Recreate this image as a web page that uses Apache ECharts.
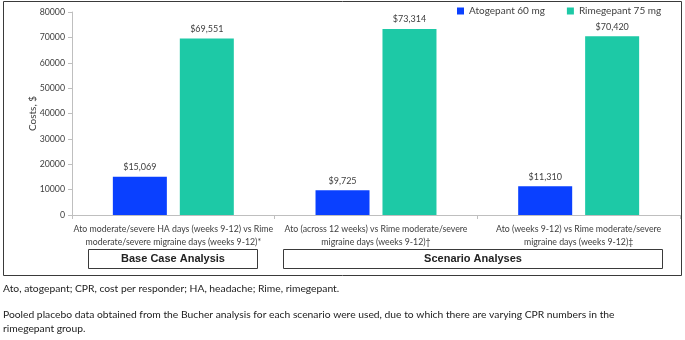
<!DOCTYPE html>
<html>
<head>
<meta charset="utf-8">
<script src="https://cdn.jsdelivr.net/npm/echarts@6/dist/echarts.min.js"></script>
<style>
  html, body { margin: 0; padding: 0; background: #fff; }
  #chart { width: 685px; height: 340px; }
</style>
</head>
<body>
<div id="chart"></div>
<script>
const categories = [
    'Ato moderate/severe HA days (weeks 9-12) vs Rime\nmoderate/severe migraine days (weeks 9-12)*',
    'Ato (across 12 weeks) vs Rime moderate/severe\nmigraine days (weeks 9-12)\u2020',
    'Ato (weeks 9-12) vs Rime moderate/severe\nmigraine days (weeks 9-12)\u2021'
];
const atogepant = [15069, 9725, 11310];
const rimegepant = [69551, 73314, 70420];
const yTicks = [0, 80000, 10000]; // min, max, step
const groupLabels = ['Base Case Analysis', 'Scenario Analyses'];
const footnotes = [
    'Ato, atogepant; CPR, cost per responder; HA, headache; Rime, rimegepant.',
    'Pooled placebo data obtained from the Bucher analysis for each scenario were used, due to which there are varying CPR numbers in the\nrimegepant group.'
];

const chart = echarts.init(document.getElementById('chart'));

const font = 'Lato, "Open Sans", sans-serif';
const boldFont = '"Liberation Sans", Arial, sans-serif';
const textColor = '#404040';

const money = (p) => '$' + p.value.toLocaleString('en-US');

const option = {
    animation: false,
    textStyle: { fontFamily: font },
    legend: {
        left: 452,
        top: 1,
        itemWidth: 7,
        itemHeight: 7,
        itemGap: 22,
        icon: 'rect',
        textStyle: { fontSize: 10, color: textColor, fontFamily: font },
        data: ['Atogepant 60 mg', 'Rimegepant 75 mg']
    },
    grid: { left: 72, right: 5, top: 12, bottom: 125 },
    xAxis: {
        type: 'category',
        data: categories,
        axisLine: { lineStyle: { color: '#bfbfbf' } },
        axisTick: { show: true, length: 4, lineStyle: { color: '#bfbfbf' } },
        axisLabel: {
            interval: 0,
            margin: 8,
            fontSize: 8.75,
            lineHeight: 13,
            color: textColor,
            fontFamily: font
        }
    },
    yAxis: {
        type: 'value',
        min: yTicks[0],
        max: yTicks[1],
        interval: yTicks[2],
        name: 'Costs, $',
        nameLocation: 'middle',
        nameGap: 34,
        nameMoveOverlap: false,
        nameTextStyle: { fontSize: 10, color: textColor, fontFamily: font },
        axisLine: { show: true, lineStyle: { color: '#bfbfbf' } },
        axisTick: { show: true, length: 4, lineStyle: { color: '#bfbfbf' } },
        splitLine: { show: false },
        axisLabel: { fontSize: 8.75, color: textColor, margin: 7, fontFamily: font, formatter: (v) => String(v) }
    },
    series: [
        {
            name: 'Atogepant 60 mg',
            type: 'bar',
            barWidth: 54,
            barGap: '24%',
            itemStyle: { color: '#0a40ff' },
            label: { show: true, position: 'top', distance: 5, fontSize: 9, color: textColor, formatter: money },
            data: atogepant
        },
        {
            name: 'Rimegepant 75 mg',
            type: 'bar',
            barWidth: 54,
            itemStyle: { color: '#1dc9a6' },
            label: { show: true, position: 'top', distance: 5, fontSize: 9, color: textColor, formatter: money },
            data: rimegepant
        }
    ],
    graphic: [
        // outer frame
        {
            type: 'rect',
            shape: { x: 3.5, y: 1.5, width: 678, height: 274 },
            style: { fill: null, stroke: '#3a3a3a', lineWidth: 1 },
            silent: true
        },
        // group boxes under the categories
        {
            type: 'rect',
            shape: { x: 88.5, y: 249.5, width: 169, height: 19 },
            style: { fill: '#fff', stroke: '#3a3a3a', lineWidth: 1 }
        },
        {
            type: 'text',
            position: [173, 253],
            style: { text: groupLabels[0], align: 'center', fontSize: 11, fontWeight: 'bold', fontFamily: boldFont, fill: '#222' }
        },
        {
            type: 'rect',
            shape: { x: 283.5, y: 249.5, width: 379, height: 19 },
            style: { fill: '#fff', stroke: '#3a3a3a', lineWidth: 1 }
        },
        {
            type: 'text',
            position: [473, 253],
            style: { text: groupLabels[1], align: 'center', fontSize: 11, fontWeight: 'bold', fontFamily: boldFont, fill: '#222' }
        },
        // footnotes
        {
            type: 'text',
            position: [3, 284],
            style: { text: footnotes[0], fontSize: 10.3, fontFamily: font, fill: '#222' }
        },
        {
            type: 'text',
            position: [3, 308],
            style: { text: footnotes[1], fontSize: 10.3, lineHeight: 14, fontFamily: font, fill: '#222' }
        }
    ]
};

chart.setOption(option);
</script>
</body>
</html>
